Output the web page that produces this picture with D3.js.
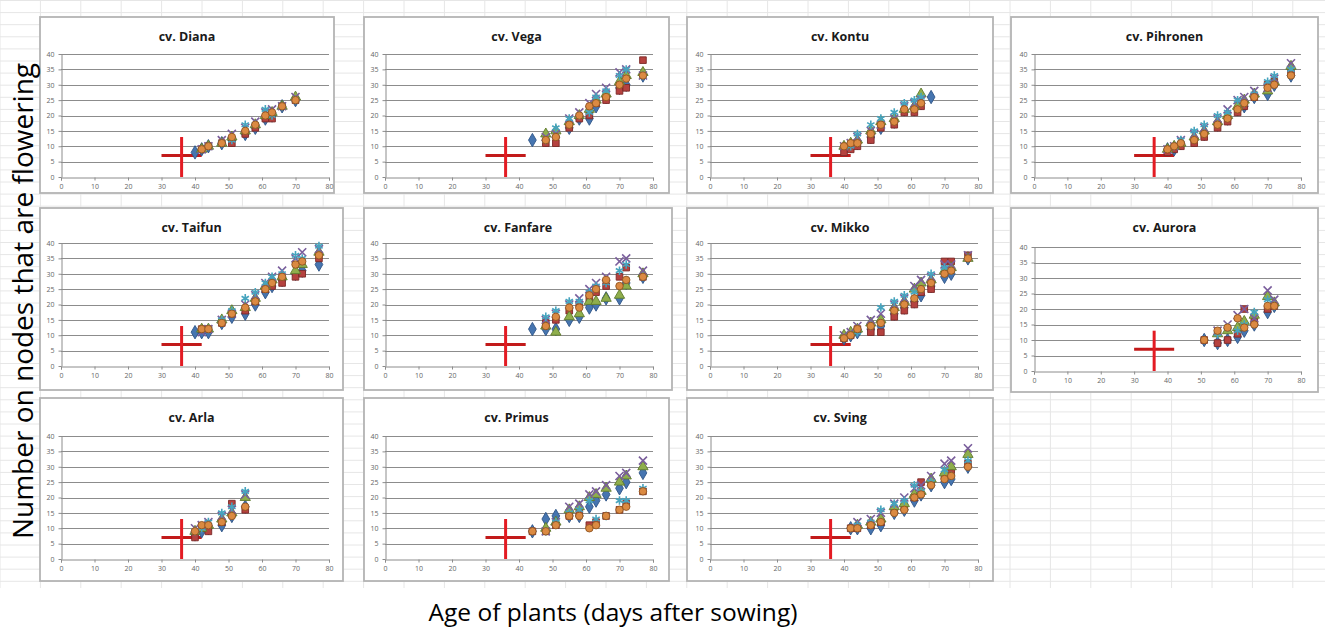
<!DOCTYPE html>
<html><head><meta charset="utf-8">
<script src="https://cdn.jsdelivr.net/npm/d3@7"></script>
<style>body{margin:0;background:#fff}svg{display:block}</style>
</head><body>
<svg id="c" width="1325" height="630"></svg>
<script>
const n = null;
const days = [40,42,44,48,51,55,58,61,63,66,70,72,77];
const xTicks = [0,10,20,30,40,50,60,70,80];
const yTicks = [0,5,10,15,20,25,30,35,40];
const titles = ["cv. Diana","cv. Vega","cv. Kontu","cv. Pihronen","cv. Taifun","cv. Fanfare","cv. Mikko","cv. Aurora","cv. Arla","cv. Primus","cv. Sving"];
const yLabel = "Number on nodes that are flowering";
const xLabel = "Age of plants (days after sowing)";
// reference cross: [low, centre, high]
const crossX = [30, 36, 42];
const crossY = [0, 7, 13];

const diana = [
 [8, 9,10,11,12,14,16,19,20,23,25,n,n],
 [n, 9,10,11,11,14,16,19,19,23,25,n,n],
 [n, 9,10,11,13,15,17,20,21,23,26,n,n],
 [n, 9,10,12,14,16,18,21,22,23,26,n,n],
 [n, n,10,11,12,17,17,22,20,23,25,n,n],
 [n, 9,10,11,13,15,17,20,21,23,25,n,n]];
const vega = [
 [n,n,12,12,13,16,19,19,23,26,29,30,33],
 [n,n, n,11,11,16,19,20,24,25,28,29,38],
 [n,n, n,14,15,18,20,22,25,27,31,33,34],
 [n,n, n,13,14,19,21,24,27,29,34,35,33],
 [n,n, n,12,16,19,20,21,26,28,33,35,33],
 [n,n, n,12,13,17,20,23,24,26,30,32,33]];
const kontu = [
 [ 9,10,11,13,16,18,22,22,24,26,n,n,n],
 [ 8, 9,10,12,16,17,21,21,23, n,n,n,n],
 [10,11,12,15,18,19,22,23,27, n,n,n,n],
 [10,11,13,15,17,19,23,24,25, n,n,n,n],
 [ n,10,14,17,19,21,24,25,26, n,n,n,n],
 [10,11,11,14,17,18,22,22,24, n,n,n,n]];
const pihronen = [
 [9, 9,11,12,14,17,19,22,23,26,27,30,33],
 [8, 9,10,11,13,16,18,21,23,26,30,31,34],
 [9,10,11,13,15,18,20,23,25,27,28,31,36],
 [9,10,12,14,16,19,22,25,26,28,29,32,37],
 [n,10,12,15,17,20,21,25,24,27,31,33,35],
 [9,10,11,12,14,17,19,22,24,26,29,30,33]];
const taifun = [
 [11,11,11,14,16,17,20,24,26,28,30,31,33],
 [ n,12,12,14,17,18,21,25,26,27,29,30,35],
 [ n,12,12,15,18,19,22,26,28,29,31,33,37],
 [ n,11,12,15,17,20,23,27,29,31,35,37,38],
 [ n, n,12,15,18,22,24,27,29,30,36,35,39],
 [ n,12,12,14,17,19,21,25,27,29,33,34,36]];
const fanfare = [
 [n,n,12,12,12,15,16,19,20,22,22,27,29],
 [n,n, n,14,15,18,20,22,24,26,29,32,29],
 [n,n, n,13,11,16,17,21,21,22,23,26,30],
 [n,n, n,15,17,20,22,25,27,29,34,35,31],
 [n,n, n,16,18,21,21,24,26,27,31,33,29],
 [n,n, n,13,16,19,19,23,25,28,26,28,29]];
const mikko = [
 [ 9,10,11,12,13,17,19,21,23,26,29,30,35],
 [ 9,10,12,11,11,16,18,20,24,25,34,34,36],
 [10,11,12,14,15,19,21,25,27,28,31,32,35],
 [10,11,13,15,17,20,22,26,28,29,33,33,36],
 [ n,10,11,13,19,21,23,24,25,30,32,31,35],
 [ 9,10,12,13,14,18,20,22,25,27,30,31,35]];
const aurora = [
 [n,n,n,n,10, 9,10,11,13,15,19,21,n],
 [n,n,n,n,10, 9,10,12,20,16,20,21,n],
 [n,n,n,n, n,12,13,14,16,18,24,22,n],
 [n,n,n,n, n,13,15,18,20,17,26,23,n],
 [n,n,n,n, n,12,14,13,15,19,23,21,n],
 [n,n,n,n,10,13,14,17,14,15,21,21,n]];
const arla = [
 [ 8, 9,10,11,14,17,n,n,n,n,n,n,n],
 [ 7,10, 9,12,18,16,n,n,n,n,n,n,n],
 [ 9,10,11,13,15,20,n,n,n,n,n,n,n],
 [10,11,12,14,16,21,n,n,n,n,n,n,n],
 [ 9,10,12,15,17,22,n,n,n,n,n,n,n],
 [ 9,11,11,12,14,17,n,n,n,n,n,n,n]];
const primus = [
 [n,n,9,13,14,14,14,17,19,21,23,25,28],
 [n,n,9, 9,11,14,15,11,12,14,16,18,22],
 [n,n,n,10,12,16,17,20,21,23,25,27,30],
 [n,n,n, 9,12,17,18,21,22,24,27,28,32],
 [n,n,n, 9,12,15,16,19,13,14,19,19,23],
 [n,n,9, 9,11,14,14,10,11,14,16,17,22]];
const sving = [
 [n,10,10,10,11,15,16,19,21,24,25,26,30],
 [n,10,10,11,12,16,17,20,25,25,27,28,31],
 [n, n,11,12,13,17,18,21,22,26,28,30,34],
 [n, n,12,13,15,18,20,23,24,27,31,32,36],
 [n, n,11,12,16,18,19,24,22,25,29,27,32],
 [n,10,10,11,12,15,16,20,21,24,26,27,30]];

const panelData = [diana, vega, kontu, pihronen, taifun, fanfare, mikko, aurora, arla, primus, sving];

// ---------- layout & style ----------
const cols = [
 {fx0:40,  fx1:334,  px0:61,   px1:329},
 {fx0:364, fx1:669,  px0:385,  px1:653},
 {fx0:687, fx1:993,  px0:710,  px1:978},
 {fx0:1011,fx1:1318, px0:1034, px1:1301}];
const rows = [
 {fy0:17,  fy1:193, py0:177, py1:54},
 {fy0:208, fy1:390, py0:366, py1:243},
 {fy0:398, fy1:581, py0:559, py1:436}];
const overrides = {4:{fx1:343}, 8:{fx1:343}, 5:{fx1:672}, 7:{fy1:392, py0:371, py1:247}};

const seriesStyle = [
 {sym:d3.symbolDiamond,  size:52, fill:"#4675B0", stroke:"#2F5587"},
 {sym:d3.symbolSquare,   size:44, fill:"#B5423F", stroke:"#7A2826"},
 {sym:d3.symbolTriangle, size:46, fill:"#8FAE4C", stroke:"#5F7A2C"},
 {sym:d3.symbolTimes,    size:44, fill:"none",    stroke:"#7A5E9C"},
 {sym:d3.symbolAsterisk, size:50, fill:"none",    stroke:"#46A4BE"},
 {sym:d3.symbolCircle,   size:44, fill:"#DB8A42", stroke:"#8F5420"}];

const svg = d3.select("#c");
const W = 1325, H = 630;
const font = "'Open Sans', 'Liberation Sans', sans-serif";

// spreadsheet cell grid in the background
const sheet = svg.append("g");
d3.range(0, 49).map(k => 0.5 + 12.1*k).filter(y => y <= 582).forEach(y => {
  sheet.append("line").attr("x1",0).attr("x2",W).attr("y1",y).attr("y2",y)
    .attr("stroke","#e6e6e6").attr("stroke-width",1);
});
d3.range(0, 34).map(k => 40.4*k).forEach(x => {
  sheet.append("line").attr("x1",x).attr("x2",x).attr("y1",0).attr("y2",588)
    .attr("stroke","#e6e6e6").attr("stroke-width",1);
});

panelData.forEach((data, i) => {
  const L = Object.assign({}, cols[i%4], rows[Math.floor(i/4)], overrides[i] || {});
  const g = svg.append("g");
  g.append("rect").attr("x",L.fx0).attr("y",L.fy0)
    .attr("width",L.fx1-L.fx0).attr("height",L.fy1-L.fy0)
    .attr("fill","#fff").attr("stroke","#b4b4b4").attr("stroke-width",1.8);

  const x = d3.scaleLinear().domain([0,80]).range([L.px0, L.px1]);
  const y = d3.scaleLinear().domain([0,40]).range([L.py0, L.py1]);

  // horizontal gridlines
  g.selectAll(".gl").data(yTicks.filter(v => v > 0)).join("line")
    .attr("x1",L.px0).attr("x2",L.px1)
    .attr("y1",d => Math.round(y(d))+0.5).attr("y2",d => Math.round(y(d))+0.5)
    .attr("stroke","#8c8c8c").attr("stroke-width",1);

  const ax = g.append("g").attr("transform",`translate(0,${Math.round(y(0))+0.5})`)
    .call(d3.axisBottom(x).tickValues(xTicks).tickSize(3).tickPadding(4).tickSizeOuter(3));
  const ay = g.append("g").attr("transform",`translate(${Math.round(x(0))+0.5},0)`)
    .call(d3.axisLeft(y).tickValues(yTicks).tickSize(3).tickPadding(4).tickSizeOuter(0));
  [ax, ay].forEach(a => {
    a.select(".domain").attr("stroke","#8c8c8c");
    a.selectAll(".tick line").attr("stroke","#8c8c8c");
    a.selectAll("text").attr("fill","#666").style("font-size","7px").style("font-family",font);
  });

  g.append("text").attr("x",(L.fx0+L.fx1)/2).attr("y",L.fy0+24)
    .attr("text-anchor","middle").style("font-family",font).style("font-weight","bold")
    .style("font-size","12.5px").attr("fill","#1a1a1a").text(titles[i]);

  // reference cross
  g.append("line").attr("x1",x(crossX[0])).attr("x2",x(crossX[2]))
    .attr("y1",y(crossY[1])).attr("y2",y(crossY[1]))
    .attr("stroke","#c21a1a").attr("stroke-width",3);
  g.append("line").attr("x1",x(crossX[1])).attr("x2",x(crossX[1]))
    .attr("y1",y(crossY[0])).attr("y2",y(crossY[2]))
    .attr("stroke","#e31b23").attr("stroke-width",3);

  // scatter series
  data.forEach((vals, s) => {
    const st = seriesStyle[s];
    const pts = vals.map((v, j) => ({d: days[j], v})).filter(p => p.v !== null);
    g.selectAll(null).data(pts).join("path")
      .attr("transform", p => `translate(${x(p.d)},${y(p.v)})`)
      .attr("d", d3.symbol().type(st.sym).size(st.size))
      .attr("fill", st.fill).attr("stroke", st.stroke)
      .attr("stroke-width", st.fill === "none" ? 1.6 : 0.9);
  });
});

// overall axis titles
svg.append("text").attr("transform","translate(33,301) rotate(-90)")
  .attr("text-anchor","middle").style("font-family",font).style("font-size","28px")
  .attr("fill","#000").text(yLabel);
svg.append("text").attr("x",613).attr("y",621)
  .attr("text-anchor","middle").style("font-family",font).style("font-size","24.5px")
  .attr("fill","#000").text(xLabel);
</script>
</body></html>
